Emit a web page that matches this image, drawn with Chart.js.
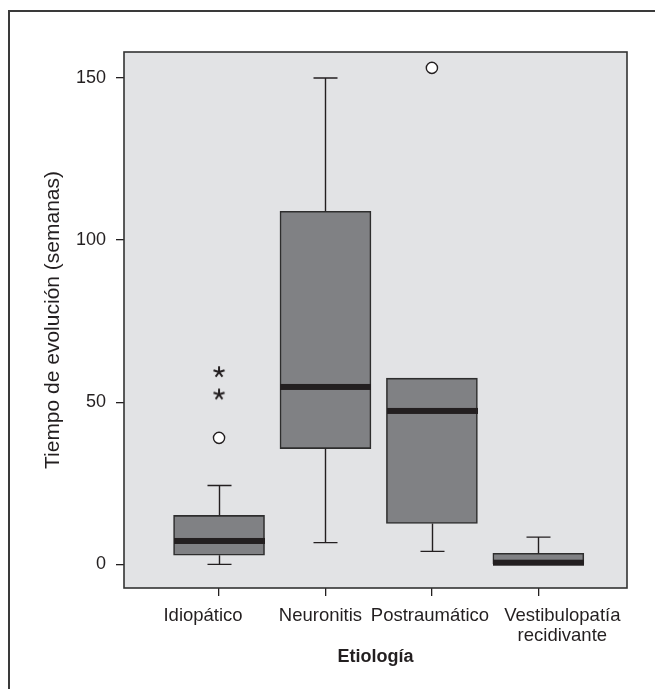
<!DOCTYPE html>
<html>
<head>
<meta charset="utf-8">
<script src="https://cdn.jsdelivr.net/npm/chart.js@4.4.1/dist/chart.umd.min.js"></script>
<style>
html,body{margin:0;padding:0;background:#fff;}
canvas{display:block;}
</style>
</head>
<body>
<canvas id="c" width="655" height="689"></canvas>
<script>
// ---- Data ----
const categories = ['Idiopático', 'Neuronitis', 'Postraumático', ['Vestibulopatía', 'recidivante']];
const whiskerLow  = [0,    6.7,   4.0,  0];
const q1          = [2.8,  35.7,  12.6, 0];
const median      = [7.2,  54.7,  47.3, 0.5];
const q3          = [15.1, 108.9, 57.4, 3.4];
const whiskerHigh = [24.3, 150.0, 57.4, 8.4];
const outlierCat   = [1, 3];        // circles (category index, 1-based)
const outlierVal   = [39.0, 153.1];
const extremeCat   = [1, 1];        // asterisks
const extremeVal   = [59.3, 52.4];
const yTicks = [0, 50, 100, 150];
const yTitle = 'Tiempo de evolución (semanas)';
const xTitle = 'Etiología';

// ---- Styles ----
const FONT = "'Liberation Sans', Arial, Helvetica, sans-serif";
const PLOT_BG = '#e2e3e5';
const BOX_FILL = '#808184';
const INK = '#231f20';
const LABEL_SHIFT = [-16, -5, -2, 24];   // label nudges (px) to avoid overlap, as in the original layout

// asterisk point style
function makeStar() {
  const s = 16, c = document.createElement('canvas');
  c.width = s; c.height = s;
  const g = c.getContext('2d');
  g.strokeStyle = INK; g.lineWidth = 2; g.lineCap = 'butt';
  const r = 5.8;
  for (let k = 0; k < 5; k++) {
    const a = -Math.PI / 2 + k * 2 * Math.PI / 5;
    g.beginPath();
    g.moveTo(s / 2, s / 2);
    g.lineTo(s / 2 + r * Math.cos(a), s / 2 + r * Math.sin(a));
    g.stroke();
  }
  return c;
}

const boxPlugin = {
  id: 'boxplotExtras',
  beforeDraw(chart) {
    const {ctx, chartArea: a} = chart;
    ctx.save();
    ctx.fillStyle = PLOT_BG;
    ctx.fillRect(a.left, a.top, a.right - a.left, a.bottom - a.top);
    ctx.restore();
  },
  afterDatasetsDraw(chart) {
    const {ctx} = chart;
    const xs = chart.scales.x, ys = chart.scales.y;
    const boxW = 91, capW = 24;
    ctx.save();
    ctx.strokeStyle = INK;
    ctx.lineWidth = 1.4;
    categories.forEach((c, i) => {
      const x = Math.round(xs.getPixelForValue(i + 1)) + 0.5;
      const yLo = ys.getPixelForValue(whiskerLow[i]);
      const yQ1 = ys.getPixelForValue(q1[i]);
      const yQ3 = ys.getPixelForValue(q3[i]);
      const yHi = ys.getPixelForValue(whiskerHigh[i]);
      ctx.beginPath();
      if (whiskerHigh[i] > q3[i]) {
        ctx.moveTo(x, yQ3); ctx.lineTo(x, yHi);
        ctx.moveTo(x - capW / 2, yHi); ctx.lineTo(x + capW / 2, yHi);
      }
      if (whiskerLow[i] < q1[i]) {
        ctx.moveTo(x, yQ1); ctx.lineTo(x, yLo);
        ctx.moveTo(x - capW / 2, yLo); ctx.lineTo(x + capW / 2, yLo);
      }
      ctx.stroke();
      // median
      const yM = ys.getPixelForValue(median[i]);
      ctx.fillStyle = INK;
      ctx.fillRect(x - boxW / 2, yM - 3, boxW, 6);
    });
    ctx.restore();
  },
  afterDraw(chart) {
    const {ctx, chartArea: a} = chart;
    const xs = chart.scales.x;
    ctx.save();
    ctx.strokeStyle = '#333';
    ctx.lineWidth = 1.6;
    ctx.strokeRect(a.left, a.top, a.right - a.left, a.bottom - a.top);
    // category labels (positions from the x scale, nudged like the original)
    ctx.fillStyle = INK;
    ctx.font = "18.5px " + FONT;
    ctx.textAlign = 'center';
    ctx.textBaseline = 'alphabetic';
    categories.forEach((c, i) => {
      const lines = Array.isArray(c) ? c : [c];
      const x = xs.getPixelForValue(i + 1) + LABEL_SHIFT[i];
      lines.forEach((t, k) => ctx.fillText(t, x, xs.top + 33 + k * 20));
    });
    // outer frame
    ctx.strokeStyle = '#3a3a3a';
    ctx.lineWidth = 2;
    ctx.beginPath();
    ctx.moveTo(9, 700); ctx.lineTo(9, 11); ctx.lineTo(700, 11);
    ctx.stroke();
    ctx.restore();
  }
};

new Chart(document.getElementById('c'), {
  type: 'bar',
  data: {
    datasets: [
      {
        type: 'bar',
        data: categories.map((c, i) => ({x: i + 1, y: [q1[i], q3[i]]})),
        backgroundColor: BOX_FILL,
        borderColor: '#2e2e2e',
        borderWidth: 1.6,
        borderSkipped: false,
        barThickness: 91,
        order: 2
      },
      {
        type: 'scatter',
        data: outlierCat.map((c, i) => ({x: c, y: outlierVal[i]})),
        pointStyle: 'circle',
        radius: 5.6,
        backgroundColor: '#ffffff',
        borderColor: INK,
        borderWidth: 1.4,
        order: 1
      },
      {
        type: 'scatter',
        data: extremeCat.map((c, i) => ({x: c, y: extremeVal[i]})),
        pointStyle: makeStar(),
        order: 1
      }
    ]
  },
  options: {
    responsive: false,
    animation: false,
    layout: {padding: {left: 0, top: 52, right: 28, bottom: 0}},
    plugins: {legend: {display: false}, tooltip: {enabled: false}},
    scales: {
      x: {
        type: 'linear',
        offset: false,
        min: 0.107, max: 4.833,
        afterBuildTicks: s => { s.ticks = categories.map((c, i) => ({value: i + 1})); },
        afterFit: s => { s.height = 101; },
        ticks: {display: false},
        grid: {offset: false, drawOnChartArea: false, drawTicks: true, tickLength: 8, color: INK, lineWidth: 1.3},
        border: {display: false},
        title: {display: true, text: xTitle, color: INK,
          font: {family: FONT, size: 18, weight: 'bold'}, padding: {top: 0, bottom: 21}}
      },
      y: {
        type: 'linear',
        min: -7.3, max: 158.0,
        afterBuildTicks: s => { s.ticks = yTicks.map(v => ({value: v})); },
        afterFit: s => { s.width = 124; },
        ticks: {color: INK, padding: 10, font: {family: FONT, size: 18}},
        grid: {drawOnChartArea: false, drawTicks: true, tickLength: 8, color: INK, lineWidth: 1.3},
        border: {display: false},
        title: {display: true, text: yTitle, color: INK,
          font: {family: FONT, size: 21}, padding: {top: 41, bottom: 0}}
      }
    }
  },
  plugins: [boxPlugin]
});
</script>
</body>
</html>
